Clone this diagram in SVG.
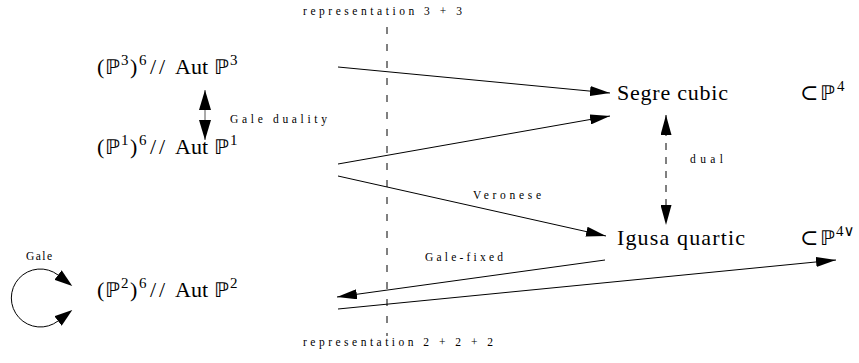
<svg xmlns="http://www.w3.org/2000/svg" width="859" height="363" viewBox="0 0 859 363">
<style>
.m{font-family:"Liberation Serif","DejaVu Serif",serif;font-size:22px;fill:#000}
.s{font-size:15px}
.bb{font-family:"DejaVu Sans","Noto Sans",sans-serif;font-size:20px}
.lb{font-family:"Liberation Serif","DejaVu Serif",serif;font-size:11.5px;fill:#000}
.ln{stroke:#000;stroke-width:1;fill:none}
</style>
<defs>
<marker id="arr" markerUnits="userSpaceOnUse" markerWidth="20" markerHeight="10" refX="20" refY="5" orient="auto"><path d="M0,0 L20,5 L0,10 z" fill="#000"/></marker>
<marker id="arr2" markerUnits="userSpaceOnUse" markerWidth="20" markerHeight="11" refX="20" refY="5.5" orient="auto-start-reverse"><path d="M0,0 L20,5.5 L0,11 z" fill="#000"/></marker>
<marker id="arr3" markerUnits="userSpaceOnUse" markerWidth="20" markerHeight="12" refX="20" refY="6" orient="auto-start-reverse"><path d="M0,0 L20,6 L0,12 z" fill="#000"/></marker>
<marker id="loop" markerUnits="userSpaceOnUse" markerWidth="18" markerHeight="12" refX="0" refY="6" orient="auto-start-reverse"><path d="M0,0 L18,6 L0,12 z" fill="#000"/></marker>
</defs>

<g id="node-p3" class="m">
<text x="97" y="74">(</text>
<text class="bb" x="105" y="74" textLength="15" lengthAdjust="spacingAndGlyphs">ℙ</text>
<text class="s" x="121" y="65">3</text>
<text x="130" y="74">)</text>
<text class="s" x="139" y="65">6</text>
<text x="150" y="74" textLength="15" lengthAdjust="spacing">//</text>
<text x="175" y="74">Aut</text>
<text class="bb" x="214" y="74" textLength="15" lengthAdjust="spacingAndGlyphs">ℙ</text>
<text class="s" x="230" y="65">3</text>
</g>
<g id="node-p1" class="m">
<text x="97" y="154">(</text>
<text class="bb" x="105" y="154" textLength="15" lengthAdjust="spacingAndGlyphs">ℙ</text>
<text class="s" x="121" y="145">1</text>
<text x="130" y="154">)</text>
<text class="s" x="139" y="145">6</text>
<text x="150" y="154" textLength="15" lengthAdjust="spacing">//</text>
<text x="175" y="154">Aut</text>
<text class="bb" x="214" y="154" textLength="15" lengthAdjust="spacingAndGlyphs">ℙ</text>
<text class="s" x="230" y="145">1</text>
</g>
<g id="node-p2" class="m">
<text x="97" y="297">(</text>
<text class="bb" x="105" y="297" textLength="15" lengthAdjust="spacingAndGlyphs">ℙ</text>
<text class="s" x="121" y="288">2</text>
<text x="130" y="297">)</text>
<text class="s" x="139" y="288">6</text>
<text x="150" y="297" textLength="15" lengthAdjust="spacing">//</text>
<text x="175" y="297">Aut</text>
<text class="bb" x="214" y="297" textLength="15" lengthAdjust="spacingAndGlyphs">ℙ</text>
<text class="s" x="230" y="288">2</text>
</g>
<g id="node-segre" class="m">
<text x="617" y="100" textLength="111" lengthAdjust="spacing">Segre cubic</text>
</g>
<g id="node-igusa" class="m">
<text x="617" y="245" textLength="128" lengthAdjust="spacing">Igusa quartic</text>
</g>
<g id="node-p4" class="m">
<text x="800" y="100">⊂</text>
<text class="bb" x="820" y="100" textLength="15" lengthAdjust="spacingAndGlyphs">ℙ</text>
<text class="s" x="837" y="91">4</text>
</g>
<g id="node-p4dual" class="m">
<text x="800" y="245">⊂</text>
<text class="bb" x="820" y="245" textLength="15" lengthAdjust="spacingAndGlyphs">ℙ</text>
<text class="s" x="836" y="236">4∨</text>
</g>

<g id="connectors">
<line class="ln" x1="387" y1="27" x2="387" y2="336" stroke-dasharray="7 10"/>
<line class="ln" x1="338" y1="67" x2="610" y2="93" marker-end="url(#arr)"/>
<line class="ln" x1="338" y1="164" x2="610" y2="116" marker-end="url(#arr)"/>
<line class="ln" x1="338" y1="176" x2="606" y2="236" marker-end="url(#arr)"/>
<line class="ln" x1="605" y1="260" x2="337" y2="297" marker-end="url(#arr)"/>
<line class="ln" x1="338" y1="309" x2="836" y2="260" marker-end="url(#arr)"/>
<line class="ln" x1="666" y1="115" x2="666" y2="225" stroke-dasharray="7 7" marker-start="url(#arr2)" marker-end="url(#arr2)"/>
<line x1="205" y1="90" x2="205" y2="140" stroke="#555" stroke-width="1" marker-start="url(#arr3)" marker-end="url(#arr3)"/>
<path class="ln" d="M58,275 A29,29 0 1 0 58,321" marker-start="url(#loop)" marker-end="url(#loop)"/>
</g>

<g id="labels">
<text class="lb" x="303" y="15" textLength="159" lengthAdjust="spacing">representation 3 + 3</text>
<text class="lb" x="303" y="346" textLength="190" lengthAdjust="spacing">representation 2 + 2 + 2</text>
<text class="lb" x="230" y="123" textLength="97" lengthAdjust="spacing">Gale duality</text>
<text class="lb" x="690" y="163" textLength="33" lengthAdjust="spacing">dual</text>
<text class="lb" x="473" y="199" textLength="68" lengthAdjust="spacing">Veronese</text>
<text class="lb" x="425" y="261" textLength="78" lengthAdjust="spacing">Gale-fixed</text>
<text class="lb" x="26" y="260" textLength="26" lengthAdjust="spacing">Gale</text>
</g>
</svg>
